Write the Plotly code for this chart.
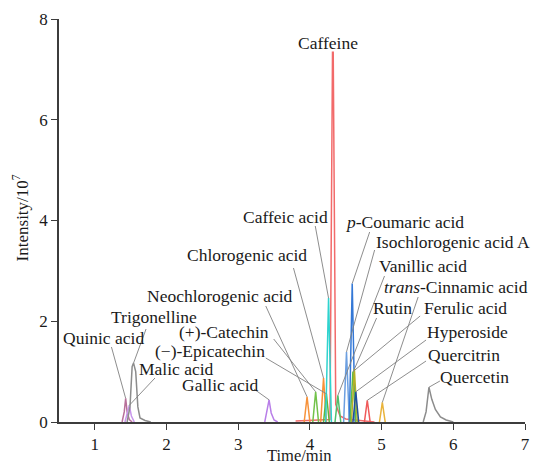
import plotly.graph_objects as go

# ---- data (time in min, intensity in 10^7) ----
quinic_t = [1.38, 1.41, 1.43, 1.45, 1.48, 1.52]
quinic_i = [0.0, 0.20, 0.47, 0.20, 0.05, 0.0]
malic_t = [1.42, 1.45, 1.48, 1.51, 1.55]
malic_i = [0.0, 0.15, 0.33, 0.12, 0.0]
trig_t = [1.45, 1.49, 1.52, 1.54, 1.57, 1.60, 1.63, 1.70, 1.78]
trig_i = [0.0, 0.30, 1.10, 1.17, 1.00, 0.30, 0.08, 0.03, 0.0]
gallic_t = [3.37, 3.40, 3.43, 3.46, 3.50, 3.55]
gallic_i = [0.0, 0.20, 0.44, 0.18, 0.04, 0.0]
neochl_t = [3.92, 3.96, 4.00]
neochl_i = [0.0, 0.50, 0.0]
catechin_t = [4.04, 4.08, 4.12]
catechin_i = [0.0, 0.60, 0.0]
chloro_t = [4.15, 4.19, 4.23]
chloro_i = [0.0, 0.87, 0.0]
epicat_t = [4.19, 4.23, 4.27]
epicat_i = [0.0, 0.56, 0.0]
caffeic_t = [4.22, 4.26, 4.30]
caffeic_i = [0.0, 2.46, 0.0]
caffeine_t = [3.80, 4.00, 4.28, 4.315, 4.325, 4.36, 4.42, 4.50, 4.70, 4.85, 4.90]
caffeine_i = [0.02, 0.03, 0.05, 7.34, 7.34, 0.35, 0.12, 0.06, 0.03, 0.02, 0.0]
vanillic_t = [4.35, 4.39, 4.43]
vanillic_i = [0.0, 0.53, 0.0]
isochl_t = [4.47, 4.51, 4.55]
isochl_i = [0.0, 1.39, 0.0]
coumaric_t = [4.55, 4.59, 4.63]
coumaric_i = [0.0, 2.75, 0.0]
ferulic_t = [4.56, 4.60, 4.64]
ferulic_i = [0.0, 1.00, 0.0]
rutin_t = [4.58, 4.62, 4.66]
rutin_i = [0.0, 1.05, 0.0]
hyper_t = [4.60, 4.64, 4.68]
hyper_i = [0.0, 0.60, 0.0]
quercitrin_t = [4.76, 4.80, 4.84]
quercitrin_i = [0.0, 0.43, 0.0]
cinnamic_t = [4.97, 5.01, 5.05]
cinnamic_i = [0.0, 0.39, 0.0]
quercetin_t = [5.58, 5.62, 5.66, 5.70, 5.75, 5.82, 5.90, 6.00]
quercetin_i = [0.0, 0.20, 0.69, 0.45, 0.25, 0.10, 0.04, 0.0]

x_ticks = [1, 2, 3, 4, 5, 6, 7]
y_ticks = [0, 2, 4, 6, 8]

# ---- series: label, times, intensities, colour ----
series = [
    ("Caffeine", caffeine_t, caffeine_i, "#f26a6a"),
    ("Quinic acid", quinic_t, quinic_i, "#b8709a"),
    ("Malic acid", malic_t, malic_i, "#c896ec"),
    ("Trigonelline", trig_t, trig_i, "#8c8c8c"),
    ("Gallic acid", gallic_t, gallic_i, "#b87ee8"),
    ("Neochlorogenic acid", neochl_t, neochl_i, "#f7923a"),
    ("(+)-Catechin", catechin_t, catechin_i, "#72c24a"),
    ("Chlorogenic acid", chloro_t, chloro_i, "#f7923a"),
    ("(−)-Epicatechin", epicat_t, epicat_i, "#5fb840"),
    ("Caffeic acid", caffeic_t, caffeic_i, "#2fd3cf"),
    ("Vanillic acid", vanillic_t, vanillic_i, "#4fbf6a"),
    ("Isochlorogenic acid A", isochl_t, isochl_i, "#6c9fe0"),
    ("<i>p</i>-Coumaric acid", coumaric_t, coumaric_i, "#3478d6"),
    ("Ferulic acid", ferulic_t, ferulic_i, "#5dbb4a"),
    ("Rutin", rutin_t, rutin_i, "#b5b028"),
    ("Hyperoside", hyper_t, hyper_i, "#1f4f9e"),
    ("Quercitrin", quercitrin_t, quercitrin_i, "#f05a5a"),
    ("<i>trans</i>-Cinnamic acid", cinnamic_t, cinnamic_i, "#e9b33a"),
    ("Quercetin", quercetin_t, quercetin_i, "#8c8c8c"),
]

# ---- label layout (pixel positions: text centre, leader start) ----
label_pos = {
    "Caffeine": ((331, 43), None),
    "Caffeic acid": ((288, 217), (318, 226)),
    "Chlorogenic acid": ((249, 255), (296, 268)),
    "Neochlorogenic acid": ((222, 296), (268, 306)),
    "(+)-Catechin": ((226, 332), (276, 339)),
    "(−)-Epicatechin": ((212, 351), (268, 358)),
    "Gallic acid": ((222, 385), (256, 389)),
    "Trigonelline": ((155, 317), (147, 329)),
    "Quinic acid": ((104, 338), (112, 347)),
    "Malic acid": ((178, 369), (156, 378)),
    "<i>p</i>-Coumaric acid": ((408, 222), (373, 232)),
    "Isochlorogenic acid A": ((457, 242), (378, 250)),
    "Vanillic acid": ((427, 266), (388, 276)),
    "<i>trans</i>-Cinnamic acid": ((460, 287), (422, 297)),
    "Rutin": ((396, 308), (380, 318)),
    "Ferulic acid": ((470, 308), (424, 316)),
    "Hyperoside": ((472, 332), (430, 340)),
    "Quercitrin": ((468, 355), (430, 361)),
    "Quercetin": ((479, 377), (444, 381)),
}

W, H = 538, 465
ML, MR, MT, MB = 59, 8, 19, 43
X0, X1 = 0.5, 7.0
Y0, Y1 = 0.0, 8.0
PW, PH = W - ML - MR, H - MT - MB


def px_to_data(px, py):
    return (X0 + (px - ML) / PW * (X1 - X0), Y0 + (H - MB - py) / PH * (Y1 - Y0))


FONT = "Liberation Serif, Times New Roman, serif"
fig = go.Figure()
shapes, annotations = [], []
for name, t, inten, col in series:
    fig.add_trace(go.Scatter(x=t, y=inten, mode="lines",
                             line=dict(color=col, width=1.5), showlegend=False,
                             hoverinfo="skip"))
    k = max(range(len(inten)), key=lambda j: inten[j])
    (cx, cy), start = label_pos[name]
    lx, ly = px_to_data(cx, cy)
    annotations.append(dict(x=lx, y=ly, xref="x", yref="y", text=name,
                            showarrow=False, xanchor="center", yanchor="middle",
                            borderpad=0,
                            font=dict(family=FONT, size=17.5, color="#1a1a1a")))
    if start is not None:
        sx, sy = px_to_data(*start)
        shapes.append(dict(type="line", xref="x", yref="y", x0=sx, y0=sy,
                           x1=t[k], y1=inten[k],
                           line=dict(color="#808080", width=0.9)))

# axis titles
annotations.append(dict(x=(302 - ML) / PW, y=(H - MB - 456) / PH, xref="paper",
                        yref="paper", text="Time/min", showarrow=False,
                        xanchor="center", yanchor="middle", borderpad=0,
                        font=dict(family=FONT, size=16.5, color="#1a1a1a")))
annotations.append(dict(x=(20 - ML) / PW, y=(H - MB - 218) / PH, xref="paper",
                        yref="paper", text="Intensity/10<sup>7</sup>",
                        showarrow=False, textangle=-90, xanchor="center",
                        yanchor="middle", borderpad=0,
                        font=dict(family=FONT, size=17, color="#1a1a1a")))

axis_common = dict(showline=True, linecolor="#3c3c3c", linewidth=1.5,
                   ticks="outside", ticklen=6, tickwidth=1.3, tickcolor="#3c3c3c",
                   showgrid=False, zeroline=False,
                   tickfont=dict(family=FONT, size=17, color="#1a1a1a"))
fig.update_layout(
    width=W, height=H,
    margin=dict(l=ML, r=MR, t=MT, b=MB, pad=0),
    paper_bgcolor="white", plot_bgcolor="white",
    xaxis=dict(range=[X0, X1], tickvals=x_ticks, **axis_common),
    yaxis=dict(range=[Y0, Y1], tickvals=y_ticks, **axis_common),
    shapes=shapes, annotations=annotations,
)
fig.write_html("out.html")
